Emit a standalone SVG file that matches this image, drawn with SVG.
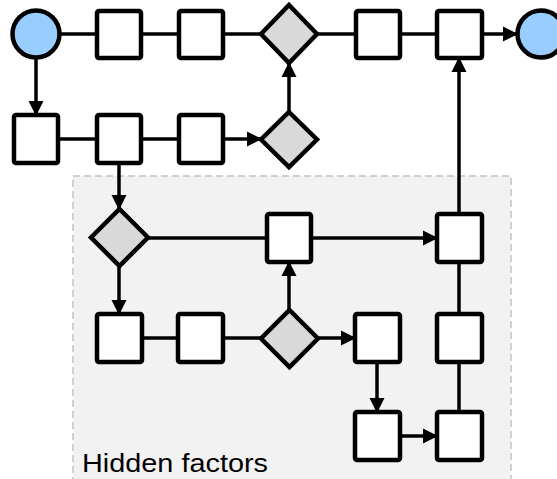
<svg xmlns="http://www.w3.org/2000/svg" width="557" height="479" viewBox="0 0 557 479">
<style>
.sq{fill:#fff;stroke:#000;stroke-width:4.5;stroke-linejoin:round}
.dm{fill:#d9d9d9;stroke:#000;stroke-width:4.5;stroke-linejoin:miter}
.ci{fill:#99ccff;stroke:#000;stroke-width:4.5}
.ln{stroke:#000;stroke-width:3.5;fill:none}
.ar{marker-end:url(#ah)}
</style>
<defs>
<marker id="ah" markerUnits="userSpaceOnUse" markerWidth="16" markerHeight="16" refX="14" refY="8" orient="auto" viewBox="0 0 16 16">
<path d="M0,0.5 L15,8 L0,15.5 z" fill="#000"/>
</marker>
</defs>
<g id="hidden-factors">
<rect x="73" y="176" width="438" height="310" fill="#f2f2f2" stroke="#d0d0d0" stroke-width="2" stroke-dasharray="7,4"/>
<text x="82" y="472" font-family="Liberation Sans, Arial, sans-serif" font-size="26" textLength="186" lengthAdjust="spacingAndGlyphs" fill="#000">Hidden factors</text>
</g>
<g id="connectors">
<line class="ln" x1="60" y1="34" x2="97" y2="34"/>
<line class="ln" x1="141" y1="34" x2="179" y2="34"/>
<line class="ln" x1="223" y1="34" x2="261" y2="34"/>
<line class="ln" x1="317" y1="34" x2="356" y2="34"/>
<line class="ln" x1="400" y1="34" x2="437" y2="34"/>
<line class="ln ar" x1="482" y1="34" x2="517" y2="34"/>
<line class="ln ar" x1="36" y1="57" x2="36" y2="115"/>
<line class="ln" x1="58" y1="139" x2="97" y2="139"/>
<line class="ln" x1="141" y1="139" x2="179" y2="139"/>
<line class="ln ar" x1="223" y1="139" x2="261" y2="139"/>
<line class="ln ar" x1="289" y1="112" x2="289" y2="63"/>
<line class="ln ar" x1="119" y1="163" x2="119" y2="209"/>
<line class="ln" x1="148" y1="238" x2="267" y2="238"/>
<line class="ln ar" x1="311" y1="238" x2="437" y2="238"/>
<line class="ln ar" x1="459" y1="214" x2="459" y2="58"/>
<line class="ln ar" x1="119" y1="266" x2="119" y2="314"/>
<line class="ln" x1="142" y1="338" x2="178" y2="338"/>
<line class="ln" x1="223" y1="338" x2="261" y2="338"/>
<line class="ln ar" x1="289" y1="310" x2="289" y2="262"/>
<line class="ln ar" x1="318" y1="338" x2="355" y2="338"/>
<line class="ln" x1="459" y1="262" x2="459" y2="314"/>
<line class="ln" x1="459" y1="362" x2="459" y2="412"/>
<line class="ln ar" x1="377" y1="362" x2="377" y2="412"/>
<line class="ln ar" x1="400" y1="436" x2="437" y2="436"/>
</g>
<g id="start"><circle class="ci" cx="36" cy="34" r="23.5"/></g>
<g id="end"><circle class="ci" cx="541" cy="34" r="23.5"/></g>
<g id="t1"><rect class="sq" x="97" y="11" width="44" height="47" rx="2"/></g>
<g id="t2"><rect class="sq" x="179" y="11" width="44" height="47" rx="2"/></g>
<g id="d1"><polygon class="dm" points="289,5 317,34 289,63 261,34"/></g>
<g id="t3"><rect class="sq" x="356" y="11" width="44" height="47" rx="2"/></g>
<g id="t4"><rect class="sq" x="437" y="11" width="45" height="47" rx="2"/></g>
<g id="r1"><rect class="sq" x="14" y="115" width="44" height="48" rx="2"/></g>
<g id="r2"><rect class="sq" x="97" y="115" width="44" height="48" rx="2"/></g>
<g id="r3"><rect class="sq" x="179" y="115" width="44" height="48" rx="2"/></g>
<g id="d2"><polygon class="dm" points="289,112 317,139.5 289,167 261,139.5"/></g>
<g id="d3"><polygon class="dm" points="119.5,209 148,237.5 119.5,266 91,237.5"/></g>
<g id="h1"><rect class="sq" x="267" y="214" width="44" height="48" rx="2"/></g>
<g id="h2"><rect class="sq" x="437" y="214" width="45" height="48" rx="2"/></g>
<g id="h3"><rect class="sq" x="97" y="314" width="45" height="48" rx="2"/></g>
<g id="h4"><rect class="sq" x="178" y="314" width="45" height="48" rx="2"/></g>
<g id="d4"><polygon class="dm" points="289.5,310 318,338.5 289.5,367 261,338.5"/></g>
<g id="h5"><rect class="sq" x="355" y="314" width="45" height="48" rx="2"/></g>
<g id="h6"><rect class="sq" x="437" y="314" width="45" height="48" rx="2"/></g>
<g id="h7"><rect class="sq" x="355" y="412" width="45" height="48" rx="2"/></g>
<g id="h8"><rect class="sq" x="437" y="412" width="45" height="48" rx="2"/></g>
</svg>
